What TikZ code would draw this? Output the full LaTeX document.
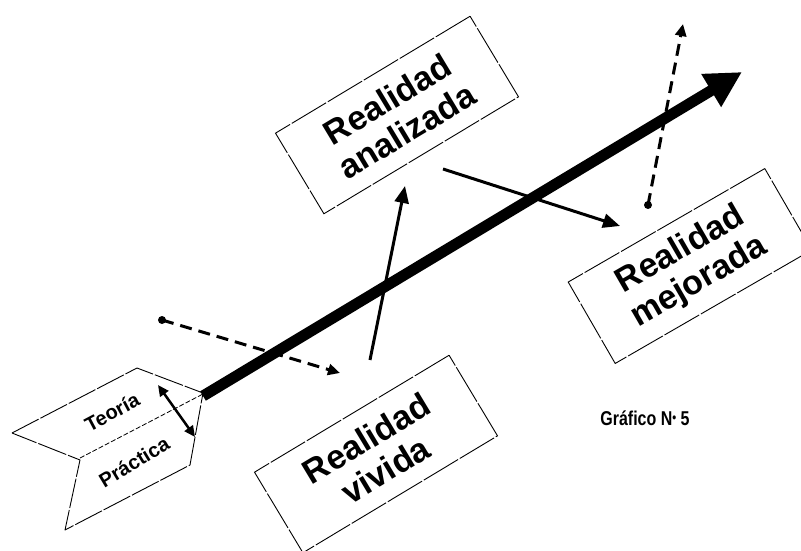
\documentclass[tikz,border=0pt]{standalone}
\usepackage{fontspec}
\setmainfont{Liberation Sans}
\usetikzlibrary{positioning,arrows.meta}

\begin{document}
\begin{tikzpicture}[x=1pt,y=-1pt,
    caja/.style={draw,line width=0.9pt,dash pattern=on 40pt off 2pt,minimum width=227pt,minimum height=94pt,align=center,inner sep=0pt,font=\bfseries\fontsize{34}{37}\selectfont},
    pluma/.style={line width=0.9pt,dash pattern=on 30pt off 2pt,line join=round},
    etiqueta/.style={font=\bfseries\fontsize{20}{22}\selectfont,inner sep=0pt},
    flecha/.style={line width=3pt,-{Triangle[length=17pt,width=14pt]}},
    punteada/.style={line width=3pt,dash pattern=on 12pt off 7pt,-{Triangle[length=12pt,width=11pt]}},
    punto/.style={circle,fill,inner sep=0pt,minimum size=8pt}]
                \useasboundingbox (0,0) rectangle (801,551);
                \clip (0,0) rectangle (801,551);
                \filldraw[pluma,fill=white] (12,433) -- (137,368) -- (203,393) -- (190,465) -- (65,530) -- (80,460) -- cycle;
                \draw[line width=0.8pt,dash pattern=on 5pt off 2pt] (80,458) -- (203,394);
                \node[etiqueta,rotate=28] (teoria) at (112,412) {Teoría};
                \node[etiqueta,rotate=31] (practica) at (134,462) {Práctica};
                \coordinate (t1) at (158,385);
                \coordinate (t2) at (195,437);
                \draw[line width=2.5pt,{Triangle[length=11pt,width=10pt]}-{Triangle[length=11pt,width=10pt]}] (t1) -- (t2);
                \coordinate (cola) at (203,396);
                \coordinate (punta) at (742,72);
                \draw[line width=11pt,-{Triangle[length=36pt,width=36pt]}] (cola) -- (punta);
                \node[caja,rotate=31] (analizada) at (397,115) {Realidad\\analizada};
                \node[caja,rotate=31] (vivida) at (376,454) {Realidad\\vivida};
                \node[caja,rotate=30] (mejorada) at (690,266) {Realidad\\mejorada};
                \coordinate (v1) at (370,360);
                \coordinate (a1) at (405,186);
                \draw[flecha] (v1) -- (a1);
                \coordinate (a2) at (443,169);
                \coordinate (m1) at (620,226);
                \draw[flecha] (a2) -- (m1);
                \node[punto] (p1) at (162,320) {};
                \coordinate (p2) at (340,373);
                \draw[punteada] (p1.center) -- (p2);
                \node[punto] (p3) at (648,205) {};
                \coordinate (p4) at (683,24);
                \draw[punteada] (p3.center) -- (p4);
                \node[font=\bfseries\fontsize{20}{22}\selectfont,xscale=0.8] (grafico) at (645,418) {Gráfico N\raisebox{3pt}{\fontsize{14}{14}\selectfont•} 5};
            \end{tikzpicture}
\end{document}
